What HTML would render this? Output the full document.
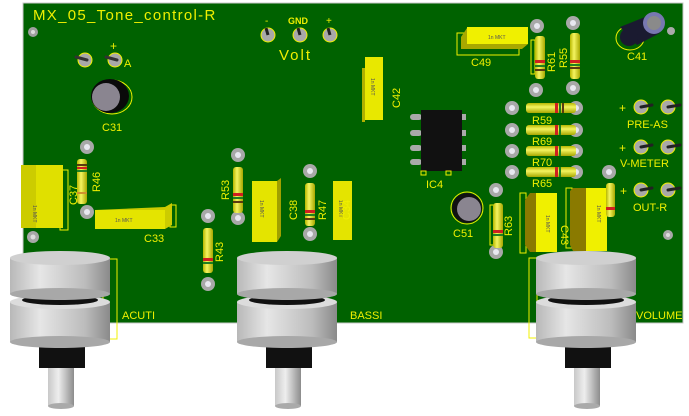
<!DOCTYPE html>
<html><head><meta charset="utf-8"><style>
html,body{margin:0;padding:0;background:#fff;}
svg{display:block}
text{font-family:"Liberation Sans",sans-serif;fill:#f0f000;}
</style></head><body>
<svg width="689" height="416" viewBox="0 0 689 416" xmlns="http://www.w3.org/2000/svg">
<defs>
<linearGradient id="kn" x1="0" x2="1" y1="0" y2="0">
<stop offset="0" stop-color="#b8b8b8"/><stop offset="0.3" stop-color="#e6e6e6"/><stop offset="0.75" stop-color="#bcbcbc"/><stop offset="1" stop-color="#8a8a8a"/></linearGradient>
<linearGradient id="sh" x1="0" x2="1"><stop offset="0" stop-color="#c8c8c8"/><stop offset="0.4" stop-color="#eee"/><stop offset="1" stop-color="#8c8c8c"/></linearGradient>
<linearGradient id="rs" x1="0" x2="1"><stop offset="0" stop-color="#b8b800"/><stop offset="0.4" stop-color="#f4f460"/><stop offset="1" stop-color="#a8a800"/></linearGradient>
<linearGradient id="rsh" x1="0" x2="0" y1="0" y2="1"><stop offset="0" stop-color="#b8b800"/><stop offset="0.4" stop-color="#f4f460"/><stop offset="1" stop-color="#a8a800"/></linearGradient>
<g id="pad"><circle r="7" fill="#a8a8a8"/><circle r="3" fill="#e8e8f0"/></g>
</defs>
<rect x="23" y="3" width="660" height="320" fill="#006200"/>
<rect x="23" y="3" width="660" height="320" fill="none" stroke="#c8c8c8" stroke-width="1"/>

<text x="33" y="20" font-size="15" letter-spacing="1.3">MX_05_Tone_control-R</text>
<circle cx="33" cy="32" r="5" fill="#a0a0a0"/><circle cx="33" cy="32" r="2" fill="#ddd"/>
<g fill="#a8a8a8" stroke="#f0f000" stroke-width="1"><circle cx="85" cy="60" r="7"/><circle cx="115" cy="60" r="7"/></g>
<g stroke="#333" stroke-width="3" stroke-linecap="round"><line x1="87" y1="60" x2="76" y2="57"/><line x1="117" y1="60" x2="106" y2="57"/></g>
<text x="110" y="50" font-size="12">+</text><text x="124" y="67" font-size="11">A</text>
<ellipse cx="112" cy="97" rx="20" ry="17" fill="none" stroke="#f0f000"/>
<ellipse cx="110" cy="96" rx="19" ry="17" fill="#0a0a0a"/>
<circle cx="106" cy="97" r="14" fill="#8a8590"/>
<text x="102" y="131" font-size="11">C31</text>
<g fill="#a8a8a8" stroke="#f0f000"><circle cx="268" cy="35" r="7"/><circle cx="300" cy="35" r="7"/><circle cx="330" cy="35" r="7"/></g>
<g stroke="#222" stroke-width="3"><line x1="268" y1="35" x2="266" y2="28"/><line x1="300" y1="35" x2="298" y2="28"/><line x1="330" y1="35" x2="328" y2="28"/></g>
<text x="265" y="24" font-size="10">-</text><text x="288" y="24" font-size="9" font-weight="bold">GND</text><text x="326" y="24" font-size="10">+</text>
<text x="279" y="60" font-size="15" letter-spacing="2">Volt</text>

<rect x="60" y="170" width="8" height="60" fill="none" stroke="#f0f000"/>
<rect x="21" y="165" width="42" height="63" fill="#e0e000"/><rect x="21" y="165" width="15" height="63" fill="#cccc00"/>
<text transform="translate(33,205) rotate(90)" font-size="5" style="fill:#555">1n MKT</text>
<text transform="translate(77,205) rotate(-90)" font-size="11">C37</text>
<use href="#pad" x="87" y="147"/><use href="#pad" x="87" y="212"/>
<rect x="77" y="159" width="10" height="45" rx="3" fill="url(#rs)"/>
<rect x="77" y="164" width="10" height="2" fill="#5a3a10"/><rect x="77" y="167" width="10" height="2" fill="#d02020"/><rect x="77" y="170" width="10" height="2" fill="#208020"/><rect x="77" y="192" width="10" height="2" fill="#d09030"/>
<text transform="translate(100,192) rotate(-90)" font-size="11">R46</text>
<rect x="170" y="205" width="6" height="22" fill="none" stroke="#f0f000"/>
<polygon points="95,210 165,207 172,203 172,225 165,229 95,229" fill="#cccc00"/>
<rect x="95" y="210" width="70" height="19" fill="#e4e400"/>
<text x="115" y="222" font-size="5" style="fill:#555">1n MKT</text>
<text x="144" y="242" font-size="11">C33</text>
<circle cx="33" cy="237" r="6" fill="#a8a8a8"/><circle cx="33" cy="237" r="2.5" fill="#ddd"/>
<use href="#pad" x="238" y="155"/><use href="#pad" x="238" y="218"/>
<rect x="233" y="167" width="10" height="46" rx="3" fill="url(#rs)"/>
<rect x="233" y="193" width="10" height="3" fill="#d02020"/><rect x="233" y="197" width="10" height="2" fill="#208020"/><rect x="233" y="201" width="10" height="2" fill="#5a3a10"/>
<text transform="translate(229,200) rotate(-90)" font-size="11">R53</text>
<rect x="252" y="181" width="25" height="61" fill="#e4e400"/><polygon points="277,181 281,178 281,236 277,242" fill="#a0a000"/>
<text transform="translate(260,200) rotate(90)" font-size="5" style="fill:#555">1n MKT</text>
<text transform="translate(297,220) rotate(-90)" font-size="11">C38</text>
<use href="#pad" x="310" y="171"/><use href="#pad" x="310" y="234"/>
<rect x="305" y="183" width="10" height="43" rx="3" fill="url(#rs)"/>
<rect x="305" y="210" width="10" height="3" fill="#d02020"/><rect x="305" y="214" width="10" height="2" fill="#208020"/><rect x="305" y="218" width="10" height="2" fill="#5a3a10"/>
<text transform="translate(326,220) rotate(-90)" font-size="11">R47</text>
<rect x="333" y="181" width="19" height="59" fill="#e4e400"/>
<text transform="translate(339,200) rotate(90)" font-size="5" style="fill:#555">1n MKT</text>
<text transform="translate(350,220) rotate(-90)" font-size="11">C34</text>
<use href="#pad" x="208" y="216"/><use href="#pad" x="208" y="284"/>
<rect x="203" y="228" width="10" height="45" rx="3" fill="url(#rs)"/>
<rect x="203" y="258" width="10" height="3" fill="#d02020"/><rect x="203" y="262" width="10" height="2" fill="#208020"/>
<text transform="translate(223,262) rotate(-90)" font-size="11">R43</text>

<rect x="457" y="33" width="62" height="22" fill="none" stroke="#f0f000"/>
<polygon points="461,37 467,28 528,27 528,44 522,49 461,49" fill="#a8a800"/>
<rect x="467" y="27" width="61" height="17" fill="#f0f000"/>
<text x="488" y="39" font-size="5" style="fill:#555">1n MKT</text>
<text x="471" y="66" font-size="11">C49</text>
<rect x="531" y="40" width="4" height="34" fill="none" stroke="#f0f000"/>
<use href="#pad" x="537" y="26"/><use href="#pad" x="536" y="90"/>
<rect x="535" y="36" width="10" height="43" rx="3" fill="url(#rs)"/>
<rect x="535" y="60" width="10" height="3" fill="#d02020"/><rect x="535" y="65" width="10" height="2" fill="#208020"/><rect x="535" y="69" width="10" height="2" fill="#5a3a10"/>
<text transform="translate(555,72) rotate(-90)" font-size="11">R61</text>
<use href="#pad" x="573" y="23"/><use href="#pad" x="573" y="88"/>
<rect x="570" y="33" width="10" height="46" rx="3" fill="url(#rs)"/>
<rect x="570" y="60" width="10" height="3" fill="#d02020"/><rect x="570" y="64" width="10" height="2" fill="#208020"/><rect x="570" y="67" width="10" height="2" fill="#5a3a10"/>
<text transform="translate(567,68) rotate(-90)" font-size="11">R55</text>
<ellipse cx="630" cy="38" rx="14" ry="12" fill="none" stroke="#f0f000"/>
<polygon points="620,27 645,17 660,33 637,45" fill="#1a1a30"/>
<ellipse cx="629" cy="37" rx="9" ry="9" fill="#1a1a30"/>
<circle cx="654" cy="23" r="11" fill="#7878b0"/><circle cx="654" cy="23" r="7" fill="#8a8a8a"/>
<circle cx="671" cy="31" r="4" fill="#aaa"/>
<text x="627" y="60" font-size="11">C41</text>
<rect x="362" y="68" width="3" height="54" fill="#b0b000"/>
<rect x="365" y="57" width="18" height="63" fill="#e8e800"/>
<text transform="translate(371,78) rotate(90)" font-size="5" style="fill:#555">1n MKT</text>
<text transform="translate(400,108) rotate(-90)" font-size="11">C42</text>
<g fill="#aaa"><rect x="410" y="114" width="12" height="6" rx="3"/><rect x="410" y="130" width="12" height="6" rx="3"/><rect x="410" y="145" width="12" height="6" rx="3"/><rect x="410" y="159" width="12" height="6" rx="3"/>
<rect x="460" y="114" width="6" height="6"/><rect x="460" y="130" width="6" height="6"/><rect x="460" y="145" width="6" height="6"/><rect x="460" y="159" width="6" height="6"/></g>
<rect x="421" y="110" width="41" height="61" fill="#111"/>
<rect x="421" y="171" width="5" height="4" fill="none" stroke="#f0f000"/><rect x="446" y="171" width="5" height="4" fill="none" stroke="#f0f000"/>
<text x="426" y="188" font-size="11">IC4</text>
<g>
<use href="#pad" x="512" y="108"/><use href="#pad" x="576" y="108"/>
<rect x="526" y="103" width="50" height="10" rx="3" fill="url(#rsh)"/><rect x="555" y="103" width="3" height="10" fill="#d02020"/><rect x="559" y="103" width="2" height="10" fill="#208020"/><rect x="562" y="103" width="2" height="10" fill="#5a3a10"/>
<text x="532" y="124" font-size="11">R59</text>
<use href="#pad" x="512" y="130"/><use href="#pad" x="576" y="130"/>
<rect x="526" y="125" width="50" height="10" rx="3" fill="url(#rsh)"/><rect x="555" y="125" width="3" height="10" fill="#d02020"/><rect x="559" y="125" width="2" height="10" fill="#208020"/>
<text x="532" y="145" font-size="11">R69</text>
<use href="#pad" x="512" y="151"/><use href="#pad" x="576" y="151"/>
<rect x="526" y="146" width="50" height="10" rx="3" fill="url(#rsh)"/><rect x="555" y="146" width="3" height="10" fill="#d02020"/><rect x="559" y="146" width="2" height="10" fill="#208020"/>
<text x="532" y="166" font-size="11">R70</text>
<use href="#pad" x="512" y="172"/><use href="#pad" x="576" y="172"/>
<rect x="526" y="167" width="50" height="10" rx="3" fill="url(#rsh)"/><rect x="555" y="167" width="3" height="10" fill="#d02020"/><rect x="559" y="167" width="2" height="10" fill="#208020"/>
<text x="532" y="187" font-size="11">R65</text>
</g>
<g fill="#a8a8a8" stroke="#f0f000"><circle cx="641" cy="107" r="7"/><circle cx="668" cy="107" r="7"/><circle cx="641" cy="147" r="7"/><circle cx="668" cy="147" r="7"/><circle cx="641" cy="190" r="7"/><circle cx="668" cy="190" r="7"/></g>
<g stroke="#222" stroke-width="3" stroke-linecap="round"><line x1="641" y1="107" x2="652" y2="105"/><line x1="668" y1="107" x2="680" y2="105"/><line x1="641" y1="147" x2="652" y2="145"/><line x1="668" y1="147" x2="680" y2="145"/><line x1="641" y1="190" x2="652" y2="188"/><line x1="668" y1="190" x2="680" y2="188"/></g>
<text x="619" y="112" font-size="12">+</text><text x="619" y="152" font-size="12">+</text><text x="620" y="195" font-size="12">+</text>
<text x="627" y="128" font-size="11">PRE-AS</text><text x="620" y="167" font-size="11">V-METER</text><text x="633" y="211" font-size="11">OUT-R</text>
<circle cx="668" cy="235" r="5" fill="#a8a8a8"/><circle cx="668" cy="235" r="2" fill="#ddd"/>
<circle cx="467" cy="208" r="16" fill="none" stroke="#f0f000"/>
<circle cx="467" cy="208" r="15" fill="#111"/><circle cx="469" cy="209" r="12" fill="#8a8590"/>
<text x="453" y="237" font-size="11">C51</text>
<rect x="490" y="205" width="4" height="40" fill="none" stroke="#f0f000"/>
<use href="#pad" x="496" y="190"/><use href="#pad" x="496" y="252"/>
<rect x="493" y="203" width="10" height="45" rx="3" fill="url(#rs)"/>
<rect x="493" y="230" width="10" height="3" fill="#d02020"/><rect x="493" y="234" width="10" height="2" fill="#208020"/>
<text transform="translate(512,236) rotate(-90)" font-size="11">R63</text>
<rect x="520" y="193" width="6" height="60" fill="none" stroke="#f0f000"/>
<polygon points="525,200 530,193 557,193 557,252 530,252 525,245" fill="#8a7a00"/>
<rect x="536" y="193" width="21" height="59" fill="#f0f000"/>
<text transform="translate(546,215) rotate(90)" font-size="5" style="fill:#555">1n MKT</text>
<text transform="translate(561,225) rotate(90)" font-size="11">C43</text>
<rect x="566" y="188" width="6" height="60" fill="none" stroke="#f0f000"/>
<polygon points="570,191 573,188 607,188 607,251 573,251 570,245" fill="#8a7a00"/>
<rect x="586" y="188" width="21" height="63" fill="#f0f000"/>
<text transform="translate(597,205) rotate(90)" font-size="5" style="fill:#555">1n MKT</text>
<use href="#pad" x="609" y="172"/>
<rect x="606" y="183" width="9" height="34" rx="3" fill="url(#rs)"/><rect x="606" y="207" width="9" height="3" fill="#d02020"/>

<rect x="103" y="259" width="14" height="80" fill="none" stroke="#f0f000"/>
<rect x="529" y="258" width="8" height="80" fill="none" stroke="#f0f000"/>
<text x="122" y="319" font-size="11">ACUTI</text>
<text x="350" y="319" font-size="11">BASSI</text>
<text x="636" y="319" font-size="11">VOLUME</text>

<g id="k1">
<rect x="48" y="366" width="26" height="40" fill="url(#sh)"/><ellipse cx="61" cy="406" rx="13" ry="3" fill="#aaa"/>
<rect x="39" y="340" width="46" height="28" fill="#111"/>
<rect x="10" y="302" width="100" height="40" fill="url(#kn)"/><ellipse cx="60" cy="342" rx="50" ry="6" fill="#a8a8a8"/>
<ellipse cx="60" cy="302" rx="50" ry="7" fill="#dcdcdc"/><ellipse cx="60" cy="300" rx="38" ry="5" fill="#111"/>
<rect x="10" y="258" width="100" height="36" fill="url(#kn)"/><ellipse cx="60" cy="294" rx="50" ry="6" fill="#a8a8a8"/>
<ellipse cx="60" cy="258" rx="50" ry="7" fill="#d0d0d0"/>
</g>
<use href="#k1" x="227"/>
<use href="#k1" x="526"/>
</svg>
</body></html>
